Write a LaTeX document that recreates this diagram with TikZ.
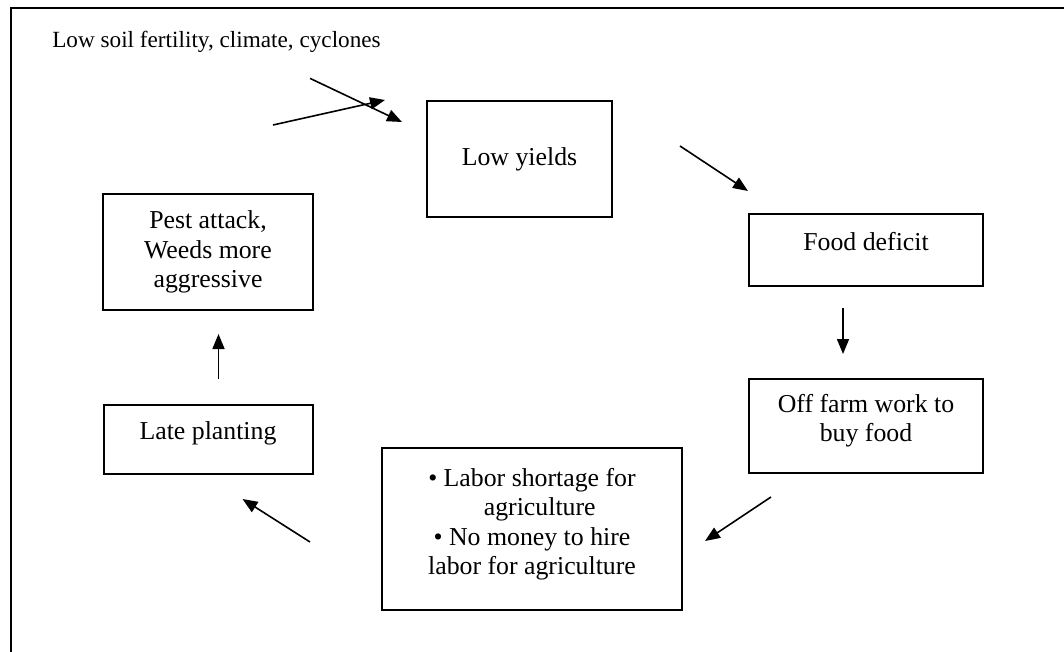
\documentclass[tikz,border=0pt]{standalone}
\usepackage{fontspec}
\setmainfont{Liberation Serif}
\usetikzlibrary{positioning, arrows.meta}

\begin{document}
\begin{tikzpicture}[
  box/.style={rectangle, draw, line width=1pt, align=center, inner sep=2pt, font=\fontsize{12.9pt}{14.8pt}\selectfont},
  basemid/.style={text height=4pt, text depth=4pt},
  arrow/.style={-{Triangle[length=7.5pt, width=6pt]}, line width=0.8pt},
  frameline/.style={line width=1.2pt}
]
\useasboundingbox (0,0) rectangle (532pt,-326pt);

% Page frame (only top and left edges show)
\coordinate (frame-top) at (532pt,-4pt);
\coordinate (frame-corner) at (5.5pt,-4pt);
\coordinate (frame-bottom) at (5.5pt,-326pt);
\draw[frameline] (frame-bottom) -- (frame-corner) -- (frame-top);

% Cycle boxes
\node[box, minimum width=92.5pt, minimum height=58pt] (yields) at (259.75pt,-79.5pt) {Low yields};
\node[box, basemid, minimum width=117pt, minimum height=36pt] (deficit) at (433pt,-125pt) {Food deficit};
\node[box, text depth=8pt, minimum width=117pt, minimum height=47pt, below=45.5pt of deficit] (offfarm) {Off farm work to\\buy food};
\node[box, text depth=7.5pt, minimum width=150pt, minimum height=81pt] (labor) at (266pt,-264.5pt) {
  \textbullet{} Labor shortage for\\
  \hphantom{\textbullet~}agriculture\\
  \textbullet{} No money to hire\\
  labor for agriculture
};
\node[box, minimum width=105pt, minimum height=58pt] (pest) at (104pt,-126pt) {Pest attack,\\Weeds more\\aggressive};
\node[box, basemid, minimum width=104.5pt, minimum height=34.5pt, below=46.5pt of pest] (late) {Late planting};

% Outside cause
\node[inner sep=0pt, anchor=base, font=\fontsize{11.6pt}{14pt}\selectfont] (causes) at (108.25pt,-24pt) {Low soil fertility, climate, cyclones};

% Arrows round the cycle
\draw[arrow] ([xshift=-35.5pt, yshift=-12.5pt]causes.south east) -- ([xshift=-12pt, yshift=-11pt]yields.north west);
\draw[arrow] ([xshift=33.5pt, yshift=6.5pt]yields.east) -- ([yshift=11pt]deficit.north west);
\draw[arrow, shorten <=10.5pt, shorten >=12pt] ([xshift=-11.5pt]deficit.south) -- ([xshift=-11.5pt]offfarm.north);
\draw[arrow] ([xshift=11.5pt, yshift=-11.5pt]offfarm.south west) -- ([xshift=11pt, yshift=-6pt]labor.east);
\draw[arrow] ([xshift=-35.5pt, yshift=-6.5pt]labor.west) -- ([xshift=17.25pt, yshift=-12pt]late.south);
\draw[arrow, shorten <=12.5pt, shorten >=11.5pt] ([xshift=5.25pt]late.north) -- ([xshift=5.25pt]pest.south);
\draw[arrow] ([xshift=-20.5pt, yshift=34pt]pest.north east) -- ([xshift=-20.5pt]yields.north west);

\end{tikzpicture}
\end{document}
